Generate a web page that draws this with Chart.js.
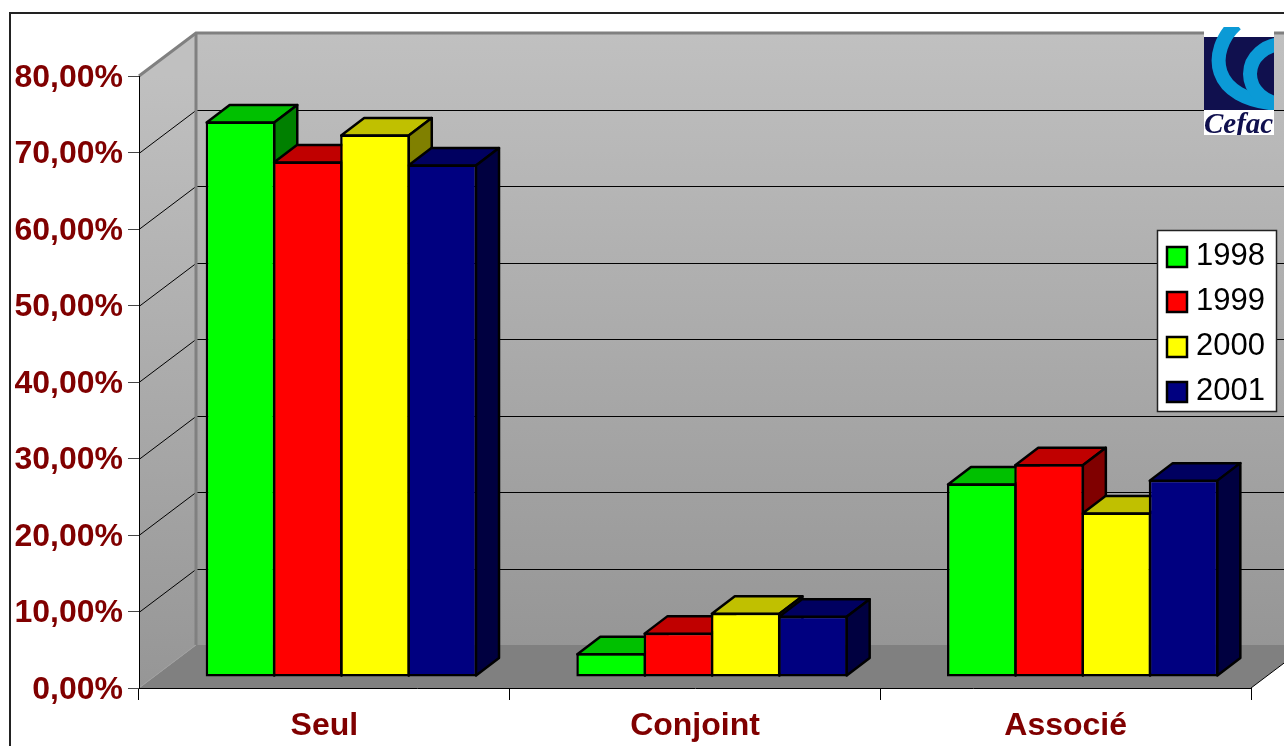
<!DOCTYPE html>
<html><head><meta charset="utf-8">
<style>html,body{margin:0;padding:0;background:#fff}canvas{display:block}</style>
<script src="https://cdn.jsdelivr.net/npm/chart.js@4"></script>
</head><body>
<canvas id="c" width="1284" height="746"></canvas>
<script>
const categories = ['Seul', 'Conjoint', 'Associé'];
const series = ['1998', '1999', '2000', '2001'];
const values1998 = [72.6, 3.1, 25.3];
const values1999 = [67.4, 5.8, 27.8];
const values2000 = [70.9, 8.4, 21.5];
const values2001 = [67.0, 8.0, 25.8];
const frontColors = ['#00ff00', '#ff0000', '#ffff00', '#000080'];
const topColors = ['#00c000', '#c00000', '#c0c000', '#000060'];
const sideColors = ['#008000', '#800000', '#808000', '#000040'];
const yMax = 80, yStep = 10;

const WALL = {dx: 57, dy: -43};
const BAR = {shiftX: 17, shiftY: -11, dx: 23, dy: -17.5};
const DARKRED = '#800000';
const FONT = '"Liberation Sans", Arial, sans-serif';

function poly(ctx, pts, fill, stroke, lw) {
  ctx.beginPath();
  pts.forEach((p, i) => i ? ctx.lineTo(p[0], p[1]) : ctx.moveTo(p[0], p[1]));
  ctx.closePath();
  if (fill) { ctx.fillStyle = fill; ctx.fill(); }
  if (stroke) { ctx.strokeStyle = stroke; ctx.lineWidth = lw; ctx.lineJoin = 'round'; ctx.stroke(); }
}

function drawLogo(ctx) {
  const x = 1204, y = 27, w = 70, h = 108;
  ctx.save();
  ctx.fillStyle = '#fff'; ctx.fillRect(x, y, w, h);
  ctx.fillStyle = '#10104e'; ctx.fillRect(x, y + 10, w, 73);
  ctx.save();
  ctx.beginPath(); ctx.rect(x, y, w, 83); ctx.clip();
  ctx.strokeStyle = '#0b9ad6';
  ctx.lineWidth = 14;
  ctx.beginPath(); ctx.moveTo(1236, 24); ctx.bezierCurveTo(1208, 50, 1208, 100, 1280, 104); ctx.stroke();
  ctx.beginPath(); ctx.ellipse(1284, 74, 34, 30, 0, Math.PI * 0.5, Math.PI * 1.5); ctx.stroke();
  ctx.restore();
  ctx.beginPath(); ctx.rect(x, y, w, h); ctx.clip();
  ctx.fillStyle = '#10104e';
  ctx.font = 'italic bold 29px "Liberation Serif", serif';
  ctx.textAlign = 'left'; ctx.textBaseline = 'alphabetic';
  ctx.fillText('Cefac', x, 133);
  ctx.restore();
}

const scene = {
  id: 'scene',
  afterLayout(chart) {
    const lg = chart.legend;
    lg.left = 1153; lg.right = 1265; lg.top = 227.4; lg.bottom = 600;
  },
  beforeDraw(chart) {
    const {ctx, scales: {x, y}} = chart;
    const L = x.left, R = x.right, T = y.getPixelForValue(yMax), B = y.getPixelForValue(0);
    const bl = L + WALL.dx, bt = T + WALL.dy, bb = B + WALL.dy, br = R + WALL.dx;
    ctx.save();
    ctx.fillStyle = '#fff'; ctx.fillRect(0, 0, chart.width, chart.height);
    const g = ctx.createLinearGradient(0, bt, 0, bb);
    g.addColorStop(0, '#c0c0c0'); g.addColorStop(1, '#969696');
    ctx.fillStyle = g; ctx.fillRect(bl, bt, br - bl, bb - bt);
    const g2 = ctx.createLinearGradient(0, T, 0, B);
    g2.addColorStop(0, '#c0c0c0'); g2.addColorStop(1, '#969696');
    poly(ctx, [[L, T], [bl, bt], [bl, bb], [L, B]], g2);
    poly(ctx, [[L, B], [bl, bb], [br, bb], [R, B]], '#808080');
    ctx.strokeStyle = '#000'; ctx.lineWidth = 1;
    for (let v = yStep; v < yMax; v += yStep) {
      const py = Math.round(y.getPixelForValue(v)) + 0.5;
      ctx.beginPath(); ctx.moveTo(L, py); ctx.lineTo(bl, py + WALL.dy); ctx.lineTo(chart.width, py + WALL.dy); ctx.stroke();
    }
    ctx.strokeStyle = '#808080'; ctx.lineWidth = 3;
    ctx.beginPath(); ctx.moveTo(L, T); ctx.lineTo(bl, bt); ctx.lineTo(chart.width, bt); ctx.stroke();
    ctx.beginPath(); ctx.moveTo(bl, bt); ctx.lineTo(bl, bb); ctx.stroke();
    ctx.strokeStyle = '#a0a0a0'; ctx.lineWidth = 1;
    ctx.beginPath(); ctx.moveTo(L, B); ctx.lineTo(bl, bb); ctx.stroke();
    ctx.strokeStyle = '#000'; ctx.lineWidth = 1;
    ctx.beginPath(); ctx.moveTo(R, B); ctx.lineTo(br, bb); ctx.stroke();
    ctx.strokeStyle = '#222'; ctx.lineWidth = 2;
    ctx.beginPath(); ctx.moveTo(10, chart.height); ctx.lineTo(10, 13); ctx.lineTo(chart.width, 13); ctx.stroke();
    drawLogo(ctx);
    ctx.fillStyle = '#fff'; ctx.strokeStyle = '#222'; ctx.lineWidth = 1.5;
    ctx.fillRect(1157.5, 230.5, 119, 181); ctx.strokeRect(1157.5, 230.5, 119, 181);
    ctx.restore();
  },
  beforeDatasetsDraw(chart) {
    const {ctx} = chart;
    ctx.save();
    ctx.translate(BAR.shiftX, BAR.shiftY);
    series.forEach((s, i) => {
      chart.getDatasetMeta(i).data.forEach(el => {
        const l = el.x - el.width / 2 + 1, r = el.x + el.width / 2 - 1, t = el.y + 1, b = el.base - 1;
        poly(ctx, [[l, t], [l + BAR.dx, t + BAR.dy], [r + BAR.dx, t + BAR.dy], [r, t]], topColors[i], '#000', 2.5);
        poly(ctx, [[r, t], [r + BAR.dx, t + BAR.dy], [r + BAR.dx, b + BAR.dy], [r, b]], sideColors[i], '#000', 2.5);
      });
    });
  },
  afterDatasetsDraw(chart) { chart.ctx.restore(); }
};

const datasetsValues = [values1998, values1999, values2000, values2001];
new Chart(document.getElementById('c'), {
  type: 'bar',
  plugins: [scene],
  data: {
    labels: categories,
    datasets: series.map((s, i) => ({
      label: s,
      data: datasetsValues[i],
      backgroundColor: frontColors[i],
      borderColor: '#000',
      borderWidth: 2.5,
      borderSkipped: false,
      clip: false,
      categoryPercentage: 0.7257,
      barPercentage: 1.035
    }))
  },
  options: {
    responsive: false,
    animation: false,
    events: [],
    layout: {autoPadding: false, padding: {top: 76, right: 33, left: 0, bottom: 0}},
    plugins: {
      title: {display: false},
      tooltip: {enabled: false},
      legend: {
        position: 'chartArea',
        align: 'start',
        labels: {
          boxWidth: 20, boxHeight: 20, padding: 14,
          textAlign: 'right',
          color: '#000',
          font: {family: FONT, size: 31}
        }
      }
    },
    scales: {
      x: {
        grid: {drawOnChartArea: false, drawTicks: true, tickLength: 12, color: '#000', offset: true},
        border: {color: '#000', width: 1},
        ticks: {color: DARKRED, padding: 7, maxRotation: 0, font: {family: FONT, size: 32, weight: 'bold'}},
        afterFit(s) { s.height = 58; }
      },
      y: {
        min: 0, max: yMax,
        grid: {drawOnChartArea: false, drawTicks: true, tickLength: 11, color: '#444'},
        border: {color: '#000', width: 1},
        ticks: {
          stepSize: yStep, color: DARKRED, padding: 5, labelOffset: 2,
          font: {family: FONT, size: 32, weight: 'bold'},
          callback: v => v.toFixed(2).replace('.', ',') + '%'
        },
        afterFit(s) { s.width = 139; }
      }
    }
  }
});
</script>
</body></html>
